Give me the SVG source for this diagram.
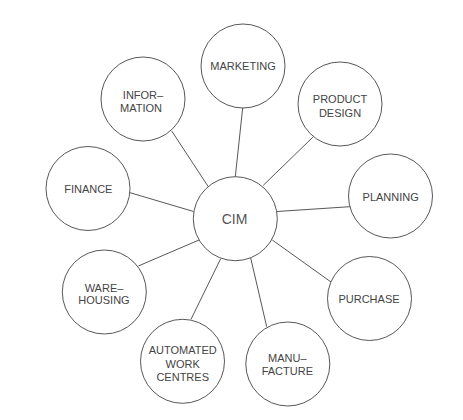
<svg xmlns="http://www.w3.org/2000/svg" width="463" height="420" viewBox="0 0 463 420">
<style>
.n circle{fill:#fff;stroke:#444;stroke-width:0.9}
.n text{font-family:"Liberation Sans",Arial,sans-serif;font-size:11px;fill:#444;text-anchor:middle}
#cim text{font-size:14px;fill:#555}
#edges line{stroke:#444;stroke-width:0.9}
</style>
<rect width="463" height="420" fill="#fff"/>
<g id="edges">
<line x1="242.7" y1="107.7" x2="235.3" y2="176.7"/>
<line x1="171.7" y1="131" x2="208.3" y2="186.7"/>
<line x1="313.3" y1="136.7" x2="263.3" y2="185.3"/>
<line x1="130" y1="192.7" x2="193.6" y2="211.5"/>
<line x1="350" y1="206.7" x2="276.8" y2="211.5"/>
<line x1="138.3" y1="266" x2="199" y2="240"/>
<line x1="191" y1="319.3" x2="220.7" y2="258.7"/>
<line x1="266.7" y1="326.7" x2="250.7" y2="258"/>
<line x1="331" y1="282" x2="272.3" y2="240"/>
</g>
<g id="marketing" class="n"><circle cx="243" cy="66" r="42"/><text x="243" y="70">MARKETING</text></g>
<g id="information" class="n"><circle cx="143" cy="99" r="42"/><text x="143" y="99">INFOR–</text><text x="141" y="111.7">MATION</text></g>
<g id="product-design" class="n"><circle cx="340" cy="104" r="42"/><text x="340" y="102.7">PRODUCT</text><text x="340" y="116.7">DESIGN</text></g>
<g id="finance" class="n"><circle cx="88" cy="188.5" r="42"/><text x="88.3" y="193.3">FINANCE</text></g>
<g id="planning" class="n"><circle cx="390.5" cy="196" r="42"/><text x="390.7" y="200.7">PLANNING</text></g>
<g id="cim" class="n"><circle cx="235.3" cy="218.7" r="42"/><text x="234.5" y="224">CIM</text></g>
<g id="warehousing" class="n"><circle cx="104.3" cy="292" r="42"/><text x="104" y="291.7">WARE–</text><text x="104" y="304">HOUSING</text></g>
<g id="automated" class="n"><circle cx="182.5" cy="361.3" r="42"/><text x="182.7" y="354">AUTOMATED</text><text x="182.7" y="368">WORK</text><text x="182.7" y="381.3">CENTRES</text></g>
<g id="manufacture" class="n"><circle cx="287.8" cy="364" r="42"/><text x="287.3" y="362.3">MANU–</text><text x="287.3" y="374.7">FACTURE</text></g>
<g id="purchase" class="n"><circle cx="369.5" cy="298.5" r="42"/><text x="369" y="303.3">PURCHASE</text></g>
</svg>
